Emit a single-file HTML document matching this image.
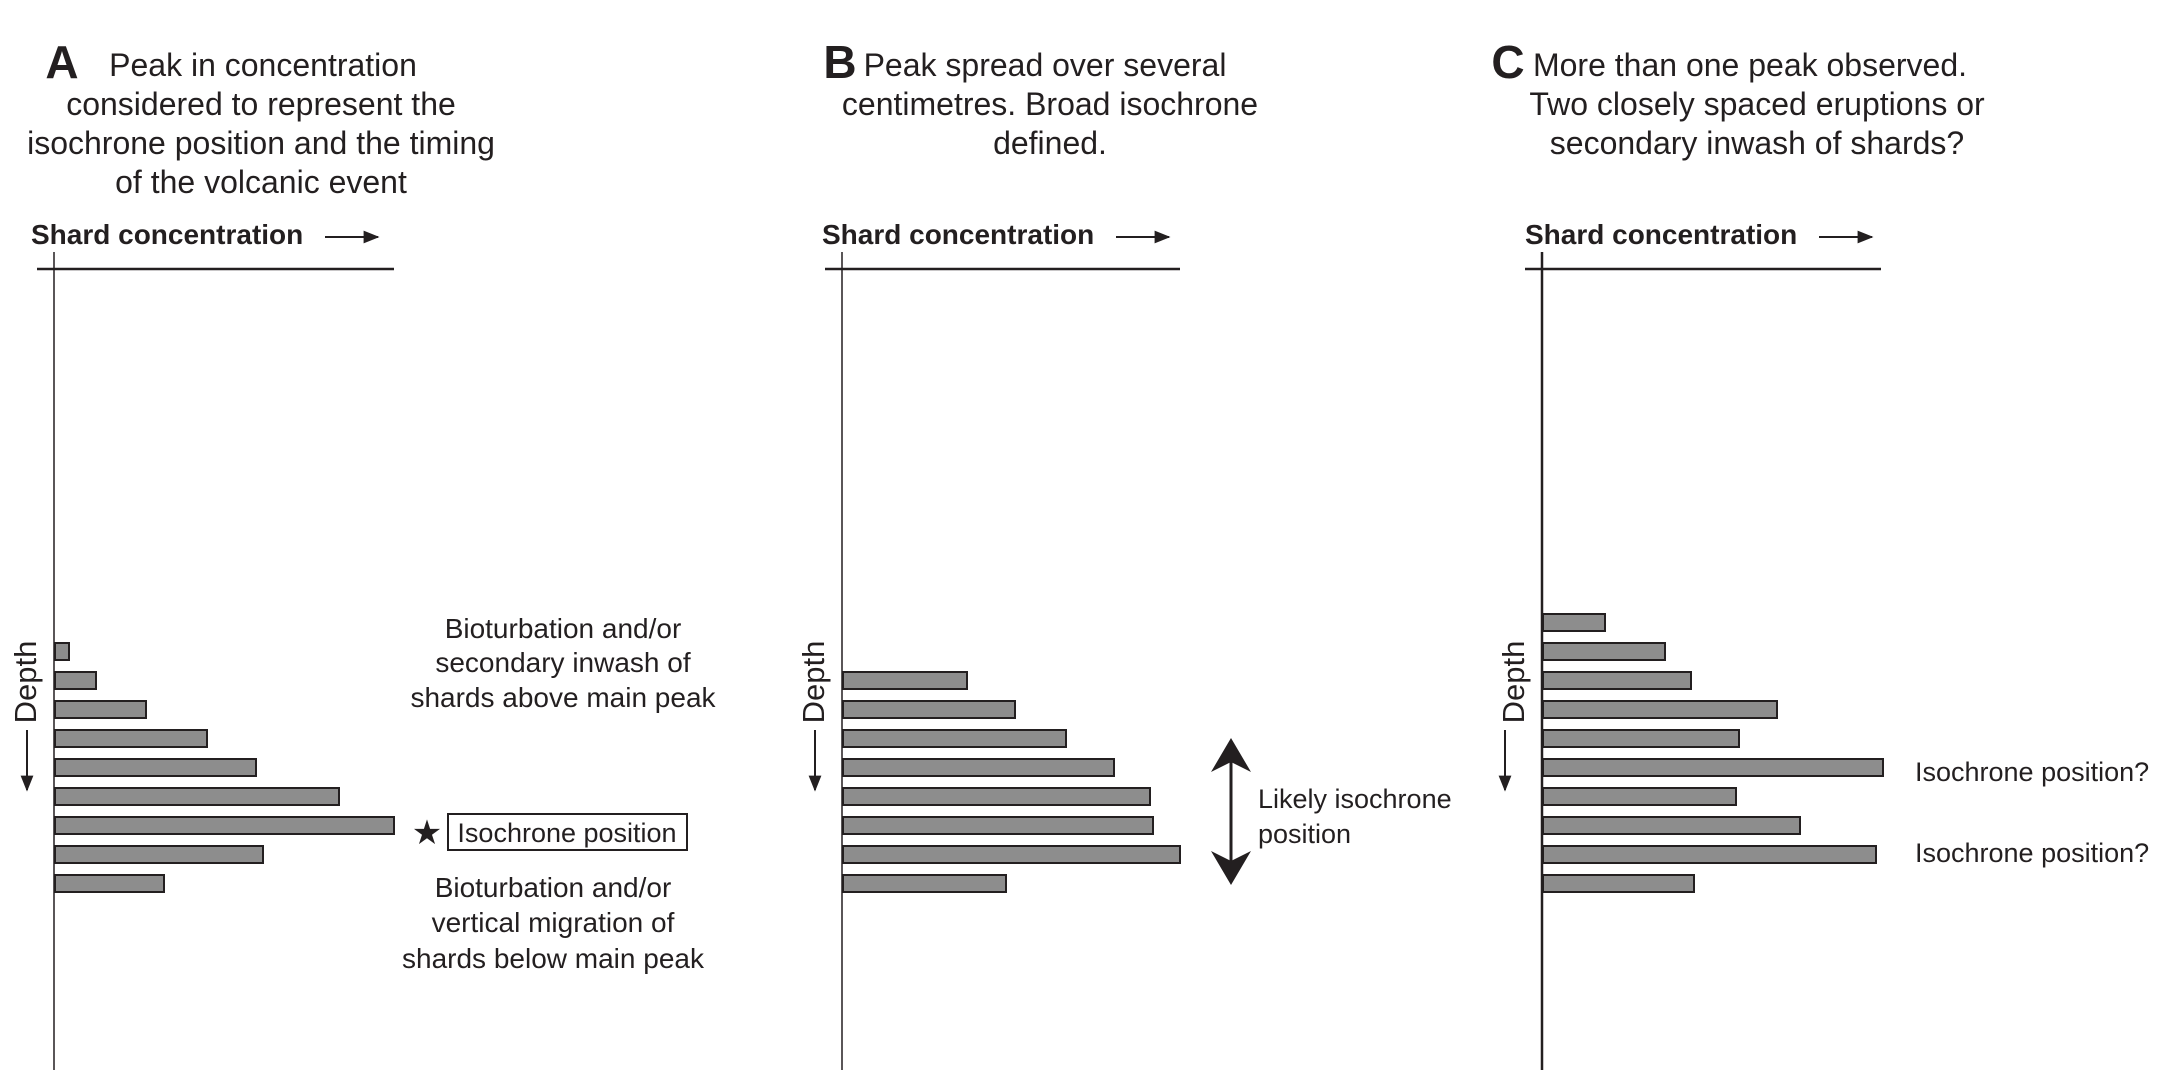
<!DOCTYPE html>
<html><head><meta charset="utf-8"><style>
html,body{margin:0;padding:0;background:#fff;}
svg{display:block;}
text{font-family:"Liberation Sans",sans-serif;fill:#231f20;}
</style></head><body>
<svg width="2179" height="1070" viewBox="0 0 2179 1070" xmlns="http://www.w3.org/2000/svg">
<defs>
<marker id="ah" viewBox="0 0 10 10" refX="9" refY="5" markerWidth="8" markerHeight="8" orient="auto-start-reverse"><path d="M0,1 L10,5 L0,9 z" fill="#231f20"/></marker>
</defs>
<g font-size="32" text-anchor="middle">
<text x="62" y="78" font-size="46" font-weight="bold" text-anchor="middle">A</text>
<text x="263" y="76">Peak in concentration</text>
<text x="261" y="115">considered to represent the</text>
<text x="261" y="154">isochrone position and the timing</text>
<text x="261" y="193">of the volcanic event</text>

<text x="840" y="78" font-size="46" font-weight="bold">B</text>
<text x="1045" y="76">Peak spread over several</text>
<text x="1050" y="115">centimetres. Broad isochrone</text>
<text x="1050" y="154">defined.</text>

<text x="1508" y="78" font-size="46" font-weight="bold">C</text>
<text x="1750" y="76">More than one peak observed.</text>
<text x="1757" y="115">Two closely spaced eruptions or</text>
<text x="1757" y="154">secondary inwash of shards?</text>
</g>
<g font-size="28" font-weight="bold">
<text x="31" y="244">Shard concentration</text>
<text x="822" y="244">Shard concentration</text>
<text x="1525" y="244">Shard concentration</text>
</g>
<g stroke="#231f20" stroke-width="2" marker-end="url(#ah)">
<line x1="325" y1="237" x2="378" y2="237"/>
<line x1="1116" y1="237" x2="1169" y2="237"/>
<line x1="1819" y1="237" x2="1872" y2="237"/>
</g>

<!-- Panel A -->
<line x1="37" y1="269" x2="394" y2="269" stroke="#231f20" stroke-width="2.5"/>
<line x1="54" y1="252" x2="54" y2="1070" stroke="#231f20" stroke-width="1.5"/>
<text transform="translate(36,682) rotate(-90)" text-anchor="middle" font-size="31">Depth</text>
<line x1="27" y1="730" x2="27" y2="790" stroke="#231f20" stroke-width="2" marker-end="url(#ah)"/>
<g fill="#8d8d8d" stroke="#231f20" stroke-width="2">
<rect x="55" y="643" width="14" height="17"/>
<rect x="55" y="672" width="41" height="17"/>
<rect x="55" y="701" width="91" height="17"/>
<rect x="55" y="730" width="152" height="17"/>
<rect x="55" y="759" width="201" height="17"/>
<rect x="55" y="788" width="284" height="17"/>
<rect x="55" y="817" width="339" height="17"/>
<rect x="55" y="846" width="208" height="17"/>
<rect x="55" y="875" width="109" height="17"/>
</g>
<g font-size="28" text-anchor="middle">
<text x="563" y="638">Bioturbation and/or</text>
<text x="563" y="672">secondary inwash of</text>
<text x="563" y="707">shards above main peak</text>
<text x="553" y="897">Bioturbation and/or</text>
<text x="553" y="932">vertical migration of</text>
<text x="553" y="968">shards below main peak</text>
</g>
<text x="427" y="844" font-size="34" text-anchor="middle">★</text>
<rect x="448" y="814" width="239" height="36" fill="none" stroke="#231f20" stroke-width="2"/>
<text x="567" y="842" font-size="27" text-anchor="middle">Isochrone position</text>

<!-- Panel B -->
<g transform="translate(-5,0)">
<line x1="830" y1="269" x2="1185" y2="269" stroke="#231f20" stroke-width="2.5"/>
<line x1="847" y1="252" x2="847" y2="1070" stroke="#231f20" stroke-width="1.5"/>
<text transform="translate(829,682) rotate(-90)" text-anchor="middle" font-size="31">Depth</text>
<line x1="820" y1="730" x2="820" y2="790" stroke="#231f20" stroke-width="2" marker-end="url(#ah)"/>
<g fill="#8d8d8d" stroke="#231f20" stroke-width="2">
<rect x="848" y="672" width="124" height="17"/>
<rect x="848" y="701" width="172" height="17"/>
<rect x="848" y="730" width="223" height="17"/>
<rect x="848" y="759" width="271" height="17"/>
<rect x="848" y="788" width="307" height="17"/>
<rect x="848" y="817" width="310" height="17"/>
<rect x="848" y="846" width="337" height="17"/>
<rect x="848" y="875" width="163" height="17"/>
</g>
<line x1="1236" y1="755" x2="1236" y2="868" stroke="#231f20" stroke-width="3"/>
<path d="M1236,738 L1256,772 L1236,762 L1216,772 z" fill="#231f20"/>
<path d="M1236,885 L1256,851 L1236,861 L1216,851 z" fill="#231f20"/>
<text x="1263" y="808" font-size="27">Likely isochrone</text>
<text x="1263" y="843" font-size="27">position</text>
</g>

<!-- Panel C -->
<g transform="translate(-9,0)">
<line x1="1534" y1="269" x2="1890" y2="269" stroke="#231f20" stroke-width="2.5"/>
<line x1="1551" y1="252" x2="1551" y2="1070" stroke="#231f20" stroke-width="2.5"/>
<text transform="translate(1533,682) rotate(-90)" text-anchor="middle" font-size="31">Depth</text>
<line x1="1514" y1="730" x2="1514" y2="790" stroke="#231f20" stroke-width="2" marker-end="url(#ah)"/>
<g fill="#8d8d8d" stroke="#231f20" stroke-width="2">
<rect x="1552" y="614" width="62" height="17"/>
<rect x="1552" y="643" width="122" height="17"/>
<rect x="1552" y="672" width="148" height="17"/>
<rect x="1552" y="701" width="234" height="17"/>
<rect x="1552" y="730" width="196" height="17"/>
<rect x="1552" y="759" width="340" height="17"/>
<rect x="1552" y="788" width="193" height="17"/>
<rect x="1552" y="817" width="257" height="17"/>
<rect x="1552" y="846" width="333" height="17"/>
<rect x="1552" y="875" width="151" height="17"/>
</g>
<text x="1924" y="781" font-size="27">Isochrone position?</text>
<text x="1924" y="862" font-size="27">Isochrone position?</text>
</g>
</svg>
</body></html>
